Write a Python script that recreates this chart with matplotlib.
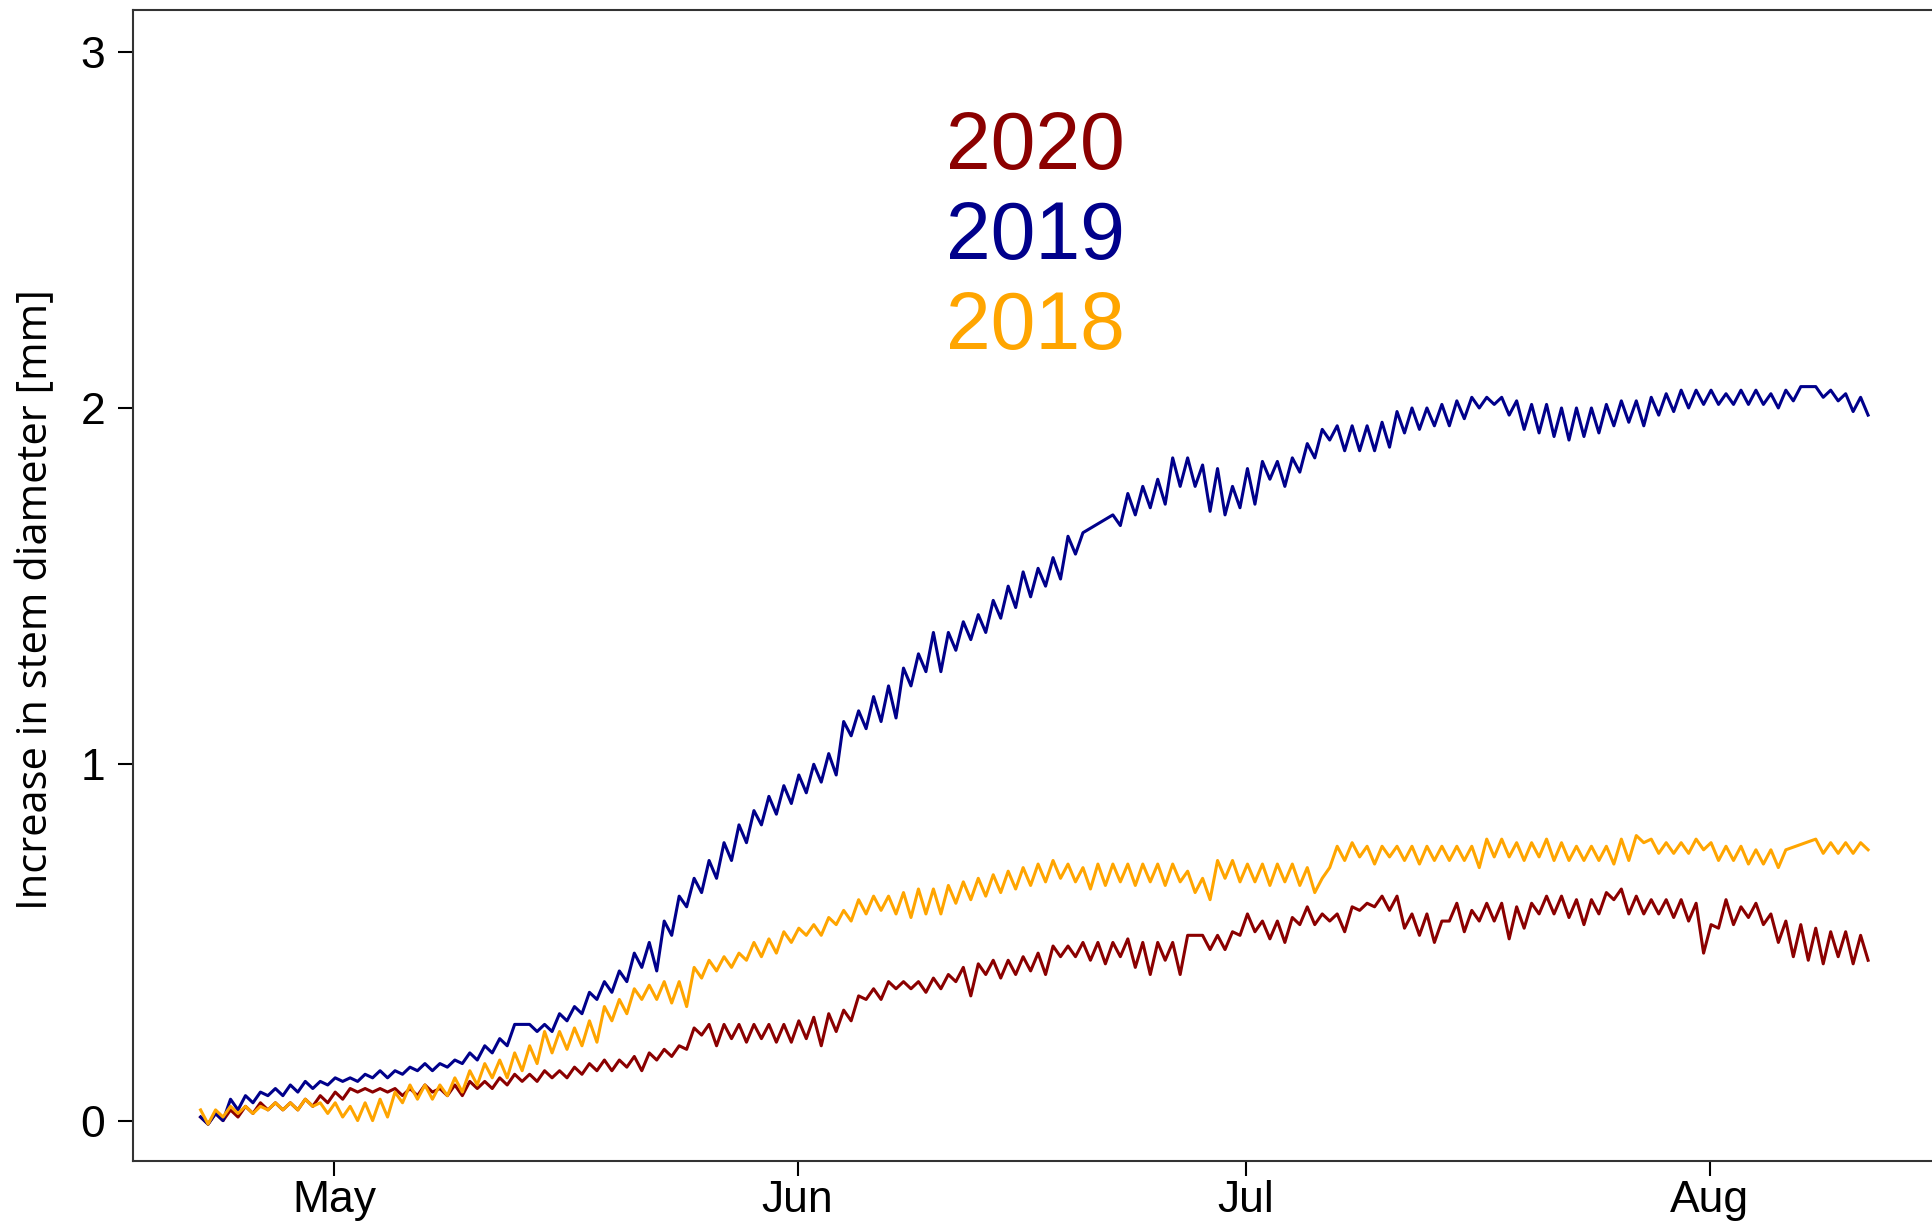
import numpy as np
import pandas as pd
import matplotlib
matplotlib.use("Agg")
import matplotlib.pyplot as plt

plt.rcParams.update({
    "font.family": ["Liberation Sans", "DejaVu Sans"],
    "axes.linewidth": 1.5, "axes.edgecolor": "#333333",
    "xtick.major.size": 10.8, "ytick.major.size": 10.8,
    "xtick.major.width": 1.5, "ytick.major.width": 1.5,
    "xtick.labelsize": 32, "ytick.labelsize": 32,
})

ROJO, AZUL, NARANJA = "#8B0000", "#00008B", "#FFA500"

INICIO = "2019-04-22"   # primer día de registro (mismo calendario para los 3 años)
MESES = ["May", "Jun", "Jul", "Aug"]
MESES_FECHA = ["2019-05-01", "2019-06-01", "2019-07-01", "2019-08-01"]
Y_TICKS = [0, 1, 2, 3]

# máximos (madrugada) y mínimos (tarde) diarios, mm; None = sin dato
max_2020 = [0.01, 0.02, 0.03, 0.04, 0.05, 0.05, 0.05, 0.06, 0.07, 0.08,
            0.09, 0.09, 0.09, 0.09, 0.09, 0.10, 0.09, 0.10, 0.11, 0.11,
            0.12, 0.13, 0.13, 0.14, 0.14, 0.15, 0.16, 0.17, 0.17, 0.18,
            0.19, 0.20, 0.21, 0.26, 0.27, 0.27, 0.27, 0.27, 0.27, 0.27,
            0.28, 0.29, 0.30, 0.31, 0.35, 0.37, 0.39, 0.39, 0.39, 0.40,
            0.41, 0.43, 0.44, 0.45, 0.45, 0.46, 0.47, 0.49, 0.49, 0.50,
            0.50, 0.50, 0.51, 0.50, 0.50, 0.50, 0.52, 0.52, 0.52, 0.53,
            0.58, 0.56, 0.56, 0.57, 0.60, 0.58, 0.58, 0.60, 0.61, 0.63,
            0.63, 0.58, 0.58, 0.56, 0.61, 0.59, 0.61, 0.61, 0.60, 0.61,
            0.63, 0.63, 0.62, 0.62, 0.64, 0.65, 0.63, 0.62, 0.62, 0.62,
            0.61, 0.55, 0.62, 0.60, 0.61, 0.58, 0.56, 0.55, 0.54, 0.53,
            0.53, 0.52]
min_2020 = [-0.01, 0.00, 0.01, 0.02, 0.03, 0.03, 0.03, 0.04, 0.05, 0.06,
            0.08, 0.08, 0.08, 0.07, 0.07, 0.08, 0.07, 0.07, 0.09, 0.09,
            0.10, 0.11, 0.11, 0.12, 0.12, 0.13, 0.14, 0.14, 0.15, 0.14,
            0.17, 0.18, 0.20, 0.24, 0.21, 0.23, 0.22, 0.23, 0.22, 0.22,
            0.23, 0.21, 0.25, 0.28, 0.34, 0.34, 0.37, 0.37, 0.36, 0.37,
            0.39, 0.35, 0.41, 0.40, 0.41, 0.42, 0.41, 0.46, 0.46, 0.45,
            0.44, 0.46, 0.43, 0.41, 0.45, 0.41, 0.52, 0.48, 0.48, 0.52,
            0.53, 0.51, 0.50, 0.55, 0.55, 0.56, 0.53, 0.59, 0.60, 0.59,
            0.54, 0.52, 0.50, 0.56, 0.53, 0.56, 0.56, 0.51, 0.54, 0.58,
            0.58, 0.57, 0.55, 0.58, 0.62, 0.58, 0.58, 0.58, 0.57, 0.56,
            0.47, 0.54, 0.55, 0.57, 0.55, 0.50, 0.46, 0.45, 0.44, 0.46,
            0.44, 0.45]

max_2019 = [0.01, 0.02, 0.06, 0.07, 0.08, 0.09, 0.10, 0.11, 0.11, 0.12,
            0.12, 0.13, 0.14, 0.14, 0.15, 0.16, 0.16, 0.17, 0.19, 0.21,
            0.23, 0.27, 0.27, 0.27, 0.30, 0.32, 0.36, 0.39, 0.42, 0.47,
            0.50, 0.56, 0.63, 0.68, 0.73, 0.78, 0.83, 0.87, 0.91, 0.94,
            0.97, 1.00, 1.03, 1.12, 1.15, 1.19, 1.22, 1.27, 1.31, 1.37,
            1.37, 1.40, 1.42, 1.46, 1.50, 1.54, 1.55, 1.58, 1.64, 1.65,
            None, 1.70, 1.76, 1.78, 1.80, 1.86, 1.86, 1.84, 1.83, 1.78,
            1.83, 1.85, 1.85, 1.86, 1.90, 1.94, 1.95, 1.95, 1.95, 1.96,
            1.99, 2.00, 2.00, 2.01, 2.02, 2.03, 2.03, 2.03, 2.02, 2.01,
            2.01, 2.00, 2.00, 2.00, 2.01, 2.02, 2.02, 2.03, 2.04, 2.05,
            2.05, 2.05, 2.04, 2.05, 2.05, 2.04, 2.05, 2.06, 2.06, 2.05,
            2.04, 2.03]
min_2019 = [-0.01, 0.00, 0.03, 0.05, 0.07, 0.07, 0.08, 0.09, 0.10, 0.11,
            0.11, 0.12, 0.12, 0.13, 0.14, 0.14, 0.15, 0.16, 0.17, 0.19,
            0.21, 0.27, 0.25, 0.25, 0.28, 0.30, 0.34, 0.36, 0.39, 0.43,
            0.42, 0.52, 0.60, 0.64, 0.68, 0.73, 0.78, 0.83, 0.86, 0.89,
            0.92, 0.95, 0.97, 1.08, 1.10, 1.12, 1.13, 1.22, 1.26, 1.26,
            1.32, 1.35, 1.37, 1.41, 1.44, 1.47, 1.50, 1.52, 1.59, None,
            None, 1.67, 1.70, 1.72, 1.73, 1.78, 1.78, 1.71, 1.70, 1.72,
            1.73, 1.80, 1.78, 1.82, 1.86, 1.91, 1.88, 1.88, 1.88, 1.89,
            1.93, 1.94, 1.95, 1.95, 1.97, 2.00, 2.01, 1.98, 1.94, 1.93,
            1.92, 1.91, 1.92, 1.93, 1.95, 1.96, 1.95, 1.98, 1.99, 2.00,
            2.01, 2.01, 2.01, 2.01, 2.01, 2.00, 2.02, 2.06, 2.03, 2.02,
            1.99, 1.98]

max_2018 = [0.03, 0.03, 0.04, 0.04, 0.04, 0.05, 0.05, 0.06, 0.05, 0.05,
            0.04, 0.05, 0.06, 0.08, 0.10, 0.10, 0.10, 0.12, 0.14, 0.16,
            0.17, 0.19, 0.21, 0.25, 0.25, 0.26, 0.28, 0.32, 0.34, 0.37,
            0.38, 0.39, 0.39, 0.43, 0.45, 0.46, 0.47, 0.50, 0.51, 0.53,
            0.54, 0.55, 0.57, 0.59, 0.62, 0.63, 0.63, 0.64, 0.65, 0.65,
            0.66, 0.67, 0.68, 0.69, 0.70, 0.71, 0.72, 0.73, 0.72, 0.71,
            0.72, 0.72, 0.72, 0.72, 0.72, 0.72, 0.70, 0.68, 0.73, 0.73,
            0.72, 0.72, 0.72, 0.72, 0.71, 0.68, 0.77, 0.78, 0.77, 0.77,
            0.77, 0.77, 0.77, 0.77, 0.77, 0.77, 0.79, 0.79, 0.78, 0.78,
            0.79, 0.78, 0.77, 0.77, 0.77, 0.79, 0.80, 0.79, 0.78, 0.78,
            0.79, 0.78, 0.77, 0.77, 0.76, 0.76, 0.76, None, 0.79, 0.78,
            0.78, 0.78]
min_2018 = [-0.01, 0.01, 0.02, 0.02, 0.03, 0.03, 0.03, 0.04, 0.02, 0.01,
            0.00, 0.00, 0.01, 0.05, 0.06, 0.06, 0.07, 0.08, 0.10, 0.12,
            0.12, 0.14, 0.16, 0.19, 0.20, 0.21, 0.22, 0.28, 0.30, 0.34,
            0.34, 0.33, 0.32, 0.40, 0.42, 0.43, 0.45, 0.46, 0.47, 0.50,
            0.52, 0.52, 0.55, 0.56, 0.58, 0.59, 0.58, 0.57, 0.58, 0.58,
            0.61, 0.62, 0.63, 0.64, 0.65, 0.66, 0.67, 0.68, 0.67, 0.65,
            0.66, 0.67, 0.66, 0.67, 0.66, 0.67, 0.64, 0.62, 0.68, 0.67,
            0.67, 0.66, 0.67, 0.66, 0.64, 0.71, 0.73, 0.74, 0.72, 0.74,
            0.73, 0.72, 0.73, 0.73, 0.73, 0.71, 0.74, 0.74, 0.73, 0.74,
            0.73, 0.73, 0.73, 0.73, 0.72, 0.73, 0.78, 0.75, 0.75, 0.75,
            0.76, 0.73, 0.73, 0.72, 0.72, 0.71, None, None, 0.75, 0.75,
            0.75, 0.76]


def serie_diaria(maximos, minimos):
    """Une máximos (02 h) y mínimos (14 h) en una serie continua."""
    dias = pd.date_range(INICIO, periods=len(maximos), freq="D")
    t = list(dias + pd.Timedelta(hours=2)) + list(dias + pd.Timedelta(hours=14))
    v = list(maximos) + list(minimos)
    s = pd.Series(v, index=t, dtype=float).sort_index().dropna()
    return s


# ── Geometría (px de la figura 1933x1232) ───────────────────────────────────
W, H = 1933, 1232
fig = plt.figure(figsize=(W / 100, H / 100), dpi=100)
x0 = pd.Timestamp("2019-04-17 13:30")
x1 = pd.Timestamp("2019-08-17 00:00")
px_dia = 14.955
ancho = (x1 - x0).total_seconds() / 86400 * px_dia
ax = fig.add_axes([133 / W, 71 / H, ancho / W, 1151 / H])

for maxs, mins, color in [(max_2020, min_2020, ROJO),
                          (max_2019, min_2019, AZUL),
                          (max_2018, min_2018, NARANJA)]:
    s = serie_diaria(maxs, mins)
    ax.plot(s.index, s.values, color=color, linewidth=2.2,
            solid_joinstyle="round")

ax.set_xlim(x0, x1)
ax.set_ylim(-0.1134, 3.117)
ax.set_xticks([pd.Timestamp(f) for f in MESES_FECHA])
ax.set_xticklabels(MESES)
ax.set_yticks(Y_TICKS)
ax.tick_params(axis="x", pad=3)
ax.tick_params(axis="y", pad=9)

fig.text(36 / W, 1 - 599.5 / H, "Increase in stem diameter [mm]",
         rotation=90, ha="center", va="center", fontsize=30,
         family=["Open Sans", "DejaVu Sans"])

for txt, color, yb in [("2020", ROJO, 169), ("2019", AZUL, 259),
                       ("2018", NARANJA, 349)]:
    fig.text(1035.6 / W, 1 - yb / H, txt, color=color, fontsize=58,
             ha="center", va="baseline")

fig.savefig("out.png", dpi=100)
